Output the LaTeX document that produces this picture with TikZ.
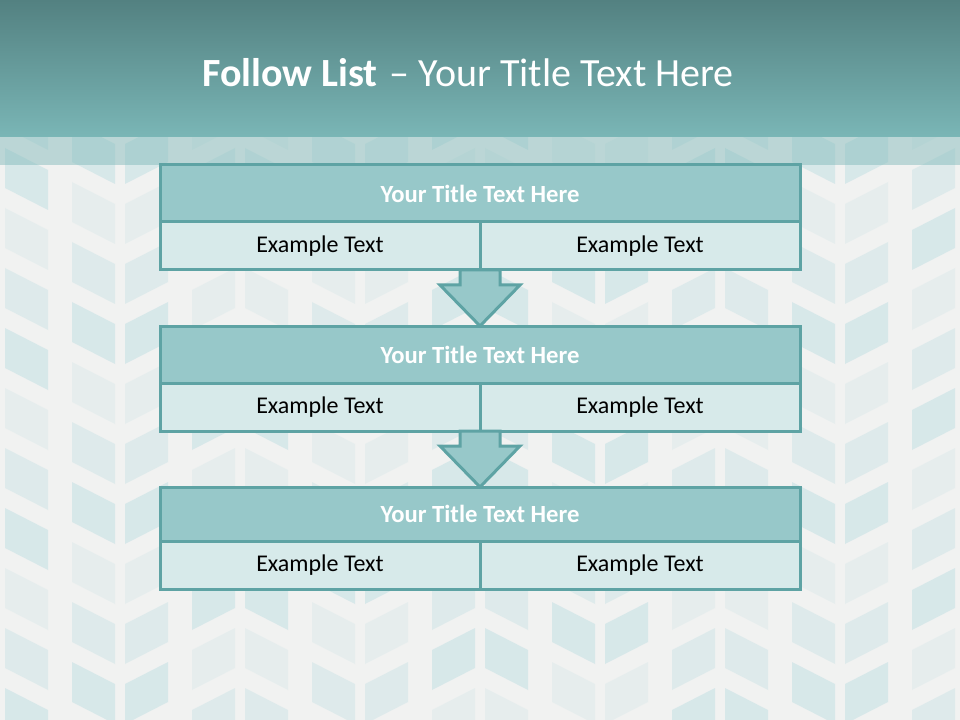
\documentclass[tikz,border=0pt]{standalone}
\usepackage{fontspec}
\setmainfont{Carlito}
\usetikzlibrary{calc,positioning}

\definecolor{tealdark}{HTML}{538181}
\definecolor{teallight}{HTML}{7AB6B6}
\definecolor{boxline}{HTML}{5EA3A4}
\definecolor{titlefill}{HTML}{97C8C9}
\definecolor{cellfill}{HTML}{D7EAEA}
\definecolor{paper}{HTML}{F1F2F1}
\definecolor{leaf}{HTML}{CDE4E7}

\tikzset{
	titlebox/.style={draw=boxline, line width=2.25pt, fill=titlefill, outer sep=0pt, inner sep=0pt,
		minimum width=480pt, minimum height=42.75pt, text=white, font=\fontsize{18.5}{22}\selectfont\bfseries},
	cellbox/.style={draw=boxline, line width=2.25pt, fill=cellfill, outer sep=0pt, inner sep=0pt,
		minimum width=240pt, minimum height=36pt, text=black, font=\fontsize{18}{21}\selectfont},
	flowarrow/.style={draw=boxline, line width=2.25pt, fill=titlefill},
}

\begin{document}
\begin{tikzpicture}[x=0.75pt, y=-0.75pt]
	\useasboundingbox (0,0) rectangle (960,720);

	%background
	\fill[paper] (0,0) rectangle (960,720);
	\foreach \k in {0,...,8}
		\foreach \j in {-1,...,12} {
			\pgfmathsetmacro\cx{120*\k}
			\pgfmathsetmacro\dy{mod(\k,2)==1 ? 22 : -22}
			\pgfmathsetmacro\yt{60*\j+50+mod(\k,2)*12}
			\pgfmathsetmacro\alp{0.3+0.2*mod(\j+\k,3)}
			\fill[leaf, fill opacity=\alp] (\cx-48,\yt) -- (\cx-5,\yt+\dy) -- (\cx-5,\yt+\dy+40) -- (\cx-48,\yt+40) -- cycle;
			\fill[leaf, fill opacity=\alp] (\cx+48,\yt) -- (\cx+5,\yt+\dy) -- (\cx+5,\yt+\dy+40) -- (\cx+48,\yt+40) -- cycle;
		}

	%header
	\shade[top color=tealdark, bottom color=teallight] (0,0) rectangle (960,137);
	\fill[teallight, fill opacity=0.45] (0,137) rectangle (960,165);
	\node[anchor=base west, inner sep=0pt, text=white, font=\fontsize{30}{36}\selectfont] (heading) at (202,87)
		{\textbf{Follow List}\hspace{0.3em}– Your Title Text Here};

	%boxes
	\node[titlebox] (t1) at (480,193.5) {Your Title Text Here};
	\node[cellbox, anchor=north west] (l1) at (t1.south west) {Example Text};
	\node[cellbox, anchor=north east] (r1) at (t1.south east) {Example Text};

	\node[titlebox, below=42pt of l1.south east] (t2) {Your Title Text Here};
	\node[cellbox, anchor=north west] (l2) at (t2.south west) {Example Text};
	\node[cellbox, anchor=north east] (r2) at (t2.south east) {Example Text};

	\node[titlebox, minimum height=40.5pt, below=42pt of l2.south east] (t3) {Your Title Text Here};
	\node[cellbox, anchor=north west] (l3) at (t3.south west) {Example Text};
	\node[cellbox, anchor=north east] (r3) at (t3.south east) {Example Text};

	%arrows
	\draw[flowarrow] ($(l1.south east)+(-20,0)$) -- ($(t2.north)+(-20,-41)$) -- ++(-20,0) -- (t2.north)
		-- ++(40,-41) -- ++(-20,0) -- ($(l1.south east)+(20,0)$) -- cycle;
	\draw[flowarrow] ($(l2.south east)+(-20,0)$) -- ($(t3.north)+(-20,-41)$) -- ++(-20,0) -- (t3.north)
		-- ++(40,-41) -- ++(-20,0) -- ($(l2.south east)+(20,0)$) -- cycle;
\end{tikzpicture}
\end{document}
